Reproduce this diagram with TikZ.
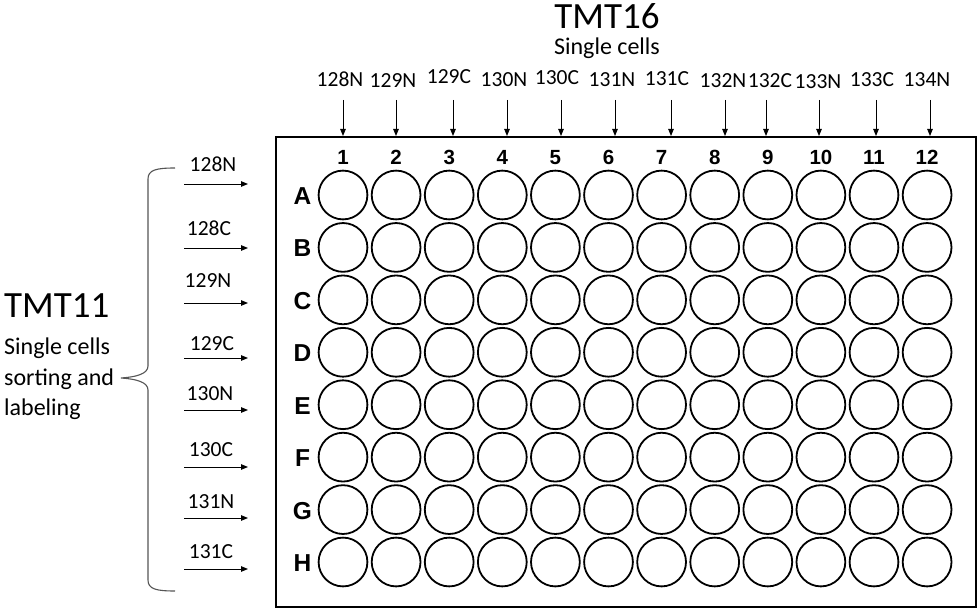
\documentclass[tikz,border=0pt]{standalone}
\usepackage{fontspec}
\setmainfont{Carlito}
\newfontfamily\arialfont{Liberation Sans}
\usetikzlibrary{arrows.meta}
\definecolor{bracegray}{HTML}{555555}
\begin{document}
\begin{tikzpicture}[x=1pt,y=-1pt,
  well/.style={circle, draw, line width=1.8pt, minimum size=48.8pt, inner sep=0pt},
  rowlabstyle/.style={font=\arialfont\bfseries\fontsize{24.5}{25}\selectfont, inner sep=0pt, anchor=base},
  collabstyle/.style={font=\arialfont\bfseries\fontsize{20.5}{21}\selectfont, inner sep=0pt, anchor=base},
  tag/.style={font=\fontsize{21.5}{22}\selectfont, anchor=base, inner sep=0pt},
  bigtitle/.style={font=\fontsize{37}{39}\selectfont, inner sep=0pt},
  subtitle/.style={font=\fontsize{24}{26}\selectfont, inner sep=0pt},
  arr/.style={-{Triangle[length=7pt,width=5.5pt]}, line width=0.9pt},
  platebox/.style={draw, line width=2pt, minimum width=700pt, minimum height=470pt, inner sep=0pt},
  bracestyle/.style={draw=bracegray, line width=1.1pt}]
\useasboundingbox (0,0) rectangle (980,612);

% plate
\node[platebox] (plate) at (626,372) {};

% wells
\foreach \r [count=\j] in {A,B,C,D,E,F,G,H} {
  \node[rowlabstyle] (row\r) at (302.5,{204.5+(\j-1)*52.43}) {\r};
  \foreach \c in {1,...,12} {
    \node[well] (w\r\c) at ({343+(\c-1)*53.1},{195+(\j-1)*52.43}) {};
  }
}
\foreach \c in {1,...,12} {
  \node[collabstyle] (col\c) at ({343+(\c-1)*53.1},164.5) {\c};
}

% TMT16 header
\node[bigtitle, anchor=base, text depth=0pt] (tmt16) at (607,28.5) {TMT16};
\node[subtitle, anchor=base] (tmt16sub) at (607,55) {Single cells};

% top labels and arrows
\foreach \lab/\lx/\ax/\b [count=\i] in {128N/340/343/87, 129N/393/396/88, 129C/449/453/84, 130N/504/507/87, 130C/557/561/85, 131N/612/615/87, 131C/667/671/86, 132N/723/725/88, 132C/770/766/88, 133N/818/819/89, 133C/872/876/87, 134N/927/930/87} {
  \node[tag] (top\i) at (\lx,\b) {\lab};
  \coordinate (ts\i) at (\ax,100);
  \draw[arr] (ts\i) -- (ts\i |- plate.north);
}

% TMT11 side
\node[bigtitle, anchor=base west] (tmt11) at (4,318) {TMT11};
\node[subtitle, anchor=base west] (side1) at (4,355) {Single cells};
\node[subtitle, anchor=base west] (side2) at (4,385) {sorting and};
\node[subtitle, anchor=base west] (side3) at (4,415) {labeling};

% left labels and arrows
\foreach \lab/\lx/\ly/\ay [count=\i] in {128N/213/172/184, 128C/209/236/248, 129N/208/288/303, 129C/212/350/358, 130N/210/400/410, 130C/211/456/467, 131N/211/508/518, 131C/211/558/569} {
  \node[tag] (left\i) at (\lx,\ly) {\lab};
  \coordinate (la\i) at (184,\ay);
  \coordinate (lb\i) at (248,\ay);
  \draw[arr] (la\i) -- (lb\i);
}

% brace
\coordinate (bt) at (175,168);
\coordinate (bm) at (121,378);
\coordinate (bb) at (175,591);
\draw[bracestyle] (bt) .. controls (156,168) and (148,170) .. (148,179)
  -- (148,366) .. controls (148,374) and (136,377) .. (bm)
  .. controls (136,379) and (148,382) .. (148,390)
  -- (148,580) .. controls (148,589) and (156,591) .. (bb);
\end{tikzpicture}
\end{document}
